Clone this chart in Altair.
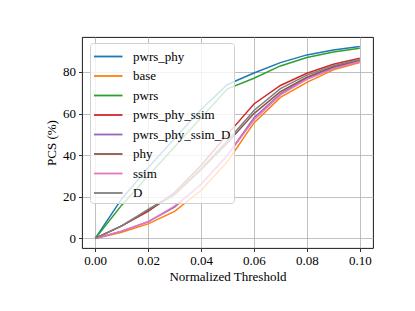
import altair as alt
import pandas as pd

thresholds = [0.00, 0.01, 0.02, 0.03, 0.04, 0.05, 0.06, 0.07, 0.08, 0.09, 0.10]
series_names = ["pwrs_phy", "base", "pwrs", "pwrs_phy_ssim", "pwrs_phy_ssim_D", "phy", "ssim", "D"]
pwrs_phy = [0, 19, 34, 48, 62, 74, 79.5, 84.5, 88.2, 90.6, 92.2]
base = [0, 3, 7, 13, 23, 37, 55.5, 67.8, 75, 81, 84.5]
pwrs = [0, 16, 30, 44, 58, 71.9, 77, 82.9, 86.9, 89.6, 91.4]
pwrs_phy_ssim = [0, 6, 13, 22, 35, 50, 64.6, 73.5, 79.4, 83.7, 86.6]
pwrs_phy_ssim_D = [0, 3.5, 8, 15, 26, 40, 58, 69.5, 77, 82, 85.3]
phy = [0, 6, 13.5, 21, 33, 46, 60, 70.5, 77.5, 82.5, 85.5]
ssim = [0, 3.5, 8, 15.5, 26, 40, 57, 69, 76.5, 81.5, 85]
D = [0, 6, 14, 21.5, 33.5, 47, 61.5, 72, 78.5, 83, 86]
colors = ["#1f77b4", "#ff7f0e", "#2ca02c", "#d62728", "#9467bd", "#8c564b", "#e377c2", "#7f7f7f"]

all_series = [pwrs_phy, base, pwrs, pwrs_phy_ssim, pwrs_phy_ssim_D, phy, ssim, D]
rows = []
for i, (name, vals) in enumerate(zip(series_names, all_series)):
    for t, v in zip(thresholds, vals):
        rows.append({"threshold": t, "pcs": v, "method": name, "order": i})
df = pd.DataFrame(rows)

font = "Liberation Serif"

axis_style = dict(labelFont=font, labelFontSize=13, labelColor="black", labelPadding=3,
                  titleFont=font, titleFontSize=13, titleColor="black", titleFontWeight="normal")

chart = alt.Chart(df).mark_line(strokeWidth=1.5, clip=True).encode(
    x=alt.X("threshold:Q",
            scale=alt.Scale(domain=[-0.005, 0.105], nice=False, zero=False),
            axis=alt.Axis(values=[0, 0.02, 0.04, 0.06, 0.08, 0.10], format=".2f",
                          title="Normalized Threshold", titlePadding=3, **axis_style)),
    y=alt.Y("pcs:Q",
            scale=alt.Scale(domain=[-4.6, 96.8], nice=False, zero=False),
            axis=alt.Axis(values=[0, 20, 40, 60, 80], title="PCS (%)", titlePadding=4, **axis_style)),
    color=alt.Color("method:N",
                    scale=alt.Scale(domain=series_names, range=colors),
                    legend=alt.Legend(title=None, orient="none", legendX=8, legendY=6,
                                      symbolType="M-1,0L2,0", symbolSize=361, symbolStrokeWidth=1.8,
                                      labelFontSize=13, labelFont=font, rowPadding=1.5,
                                      labelOffset=19, padding=3,
                                      fillColor="rgba(255,255,255,0.8)", strokeColor="#d0d0d0",
                                      cornerRadius=3)),
    order=alt.Order("order:Q"),
    detail="method:N",
).properties(
    width=291, height=211,
    autosize=alt.AutoSizeParams(type="none"),
    padding={"left": 74, "top": 29, "right": 34, "bottom": 55},
).configure(
    font=font
).configure_view(
    stroke="black", strokeWidth=0.9
).configure_axis(
    domain=False, grid=True, gridColor="#b0b0b0", gridWidth=0.8,
    tickColor="black", tickSize=3.5, tickWidth=0.8,
)

chart.save("out.html", embed_options={"renderer": "svg", "actions": False})
